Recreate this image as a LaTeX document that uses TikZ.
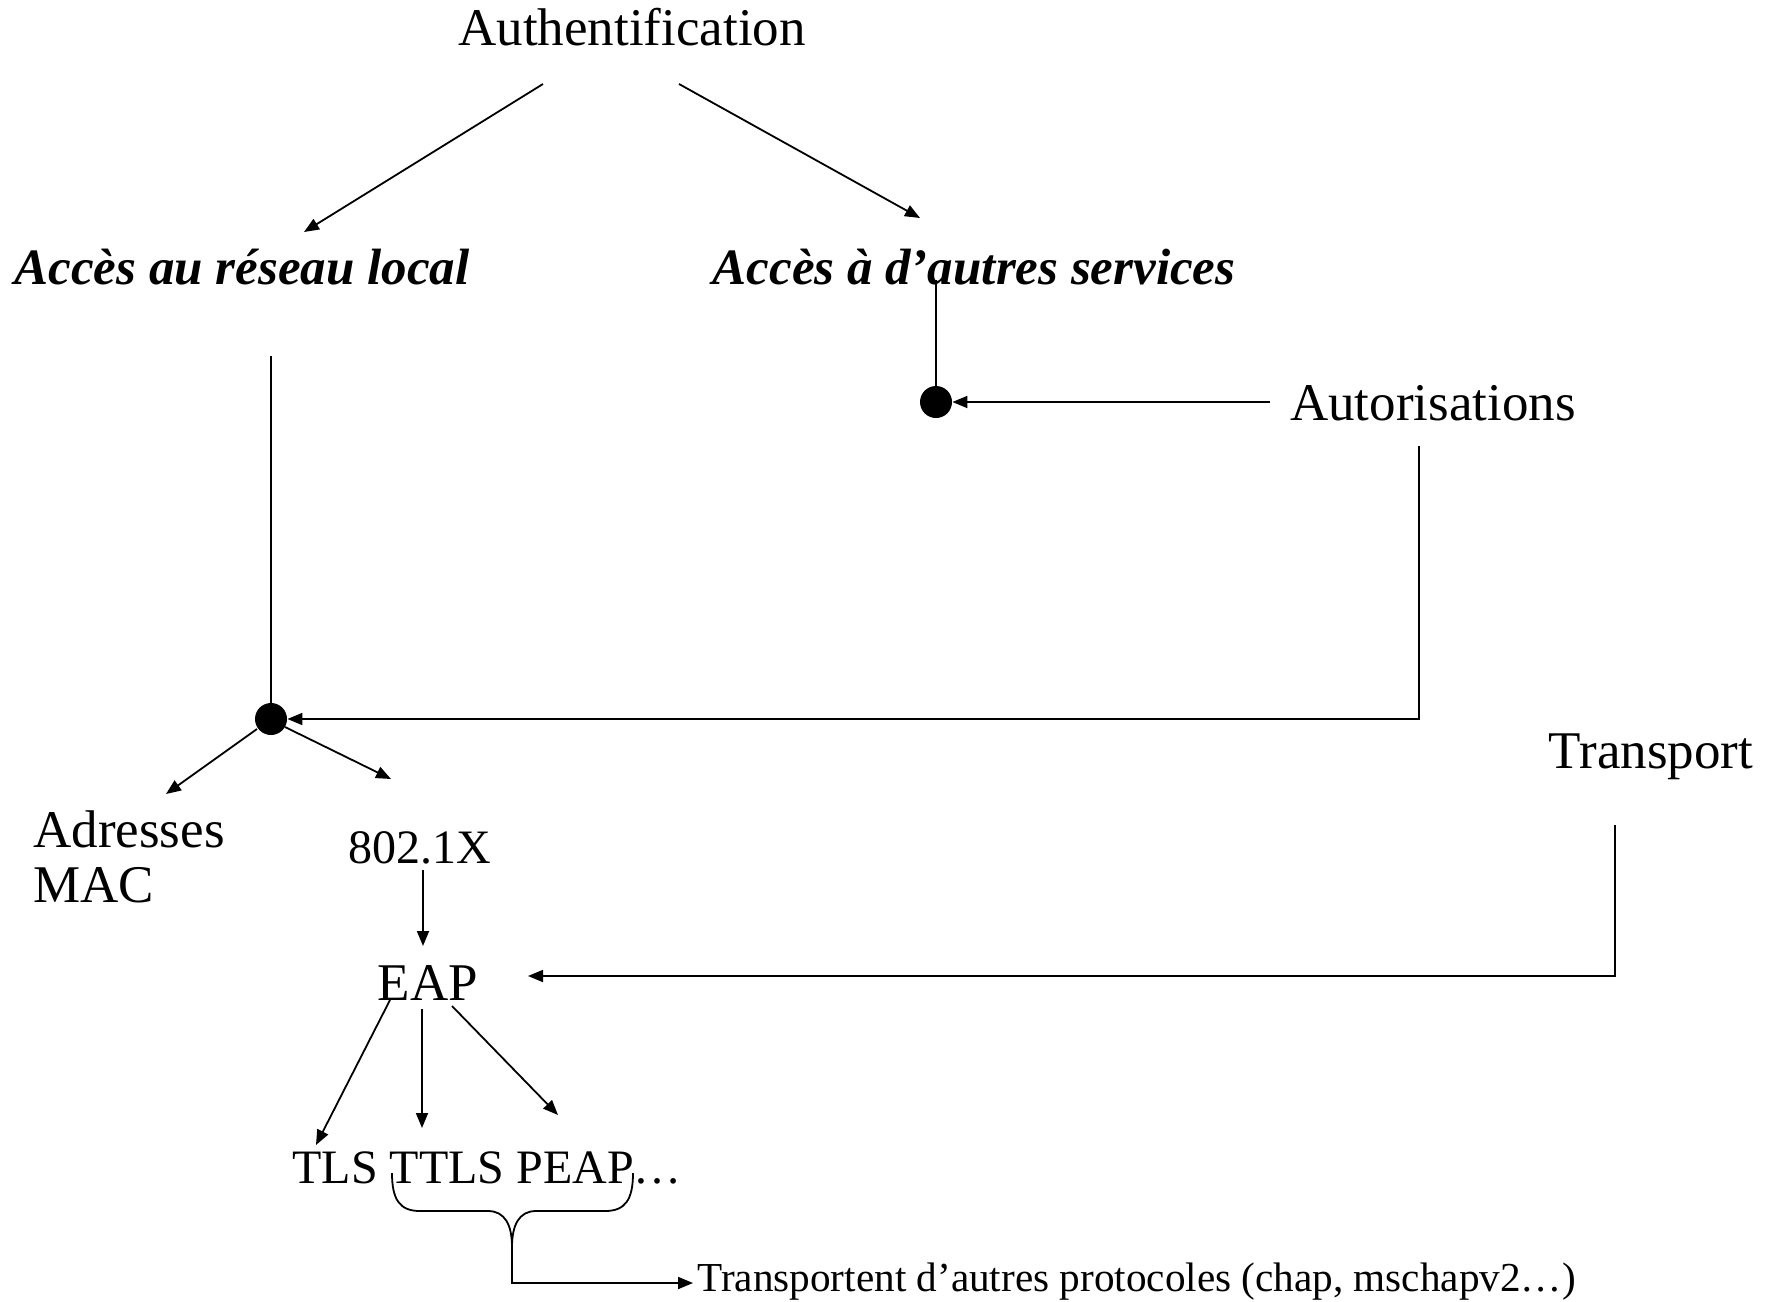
\documentclass[tikz,border=0pt]{standalone}
\usepackage{fontspec}
\setmainfont{Liberation Serif}
\usetikzlibrary{arrows.meta}
\begin{document}
\begin{tikzpicture}[x=0.5pt,y=-0.5pt,
  lbl/.style={inner sep=0pt, font=\fontsize{26.5}{27.5}\selectfont, anchor=base},
  ital/.style={lbl, font=\fontsize{25.5}{31}\selectfont\bfseries\itshape},
  small/.style={inner sep=0pt, anchor=base west, font=\fontsize{20.6}{22}\selectfont},
  conn/.style={line width=0.9pt},
  arr/.style={conn, -{Triangle[length=7.5pt,width=6pt]}},
  dotnode/.style={circle, fill, inner sep=0pt, minimum size=16pt}]
\useasboundingbox (0,0) rectangle (1781,1301);
% texts
\node[lbl] (auth) at (632,45) {Authentification};
\node[ital] (local) at (242,284) {Accès au réseau local};
\node[ital] (autres) at (974,284) {Accès à d’autres services};
\node[lbl] (autor) at (1433,420) {Autorisations};
\node[lbl] (transp) at (1651,768) {Transport};
\node[lbl, anchor=base west, align=left] (mac) at (33,902) {Adresses\\MAC};
\node[lbl, font=\fontsize{24}{27}\selectfont] (x8021) at (420,863) {802.1X};
\node[lbl] (eap) at (428,1000) {EAP};
\node[lbl, anchor=base west, font=\fontsize{24}{27}\selectfont] (tls) at (292,1183) {TLS TTLS PEAP…};
\node[small] (proto) at (697,1291) {Transportent d’autres protocoles (chap, mschapv2…)};
% dots
\node[dotnode] (d1) at (936,402) {};
\node[dotnode] (d2) at (271,719) {};
% coordinates
\coordinate (a1s) at (543,84);  \coordinate (a1e) at (304,232);
\coordinate (a2s) at (679,84);  \coordinate (a2e) at (920,218);
\coordinate (v1s) at (936,280);
\coordinate (autS) at (1270,402);
\coordinate (autD) at (1419,446); \coordinate (autC) at (1419,719);
\coordinate (locS) at (271,356);
\coordinate (m1s) at (257,729); \coordinate (m1e) at (166,794);
\coordinate (m2s) at (285,727); \coordinate (m2e) at (391,779);
\coordinate (x1s) at (423,870); \coordinate (x1e) at (423,946);
\coordinate (e1s) at (390,1000); \coordinate (e1e) at (316,1145);
\coordinate (e2s) at (422,1009); \coordinate (e2e) at (422,1128);
\coordinate (e3s) at (452,1006); \coordinate (e3e) at (558,1115);
\coordinate (trS) at (1615,825); \coordinate (trC) at (1615,976); \coordinate (trE) at (528,976);
\coordinate (brL) at (392,1173); \coordinate (brR) at (633,1173);
\coordinate (brT) at (512,1247);
\coordinate (brC) at (512,1283); \coordinate (brE) at (693,1283);
% connectors
\draw[arr] (a1s) -- (a1e);
\draw[arr] (a2s) -- (a2e);
\draw[conn] (v1s) -- (d1);
\draw[arr] (autS) -- (d1.east);
\draw[arr] (autD) -- (autC) -- (d2.east);
\draw[conn] (locS) -- (d2);
\draw[arr] (m1s) -- (m1e);
\draw[arr] (m2s) -- (m2e);
\draw[arr] (x1s) -- (x1e);
\draw[arr] (e1s) -- (e1e);
\draw[arr] (e2s) -- (e2e);
\draw[arr] (e3s) -- (e3e);
\draw[arr] (trS) -- (trC) -- (trE);
% brace
\draw[conn] (brL) .. controls (392,1200) and (400,1211) .. (420,1211)
  -- (488,1211) .. controls (505,1211) and (512,1225) .. (brT);
\draw[conn] (brR) .. controls (633,1200) and (625,1211) .. (605,1211)
  -- (536,1211) .. controls (519,1211) and (512,1225) .. (brT);
\draw[arr] (brT) -- (brC) -- (brE);
\end{tikzpicture}
\end{document}
